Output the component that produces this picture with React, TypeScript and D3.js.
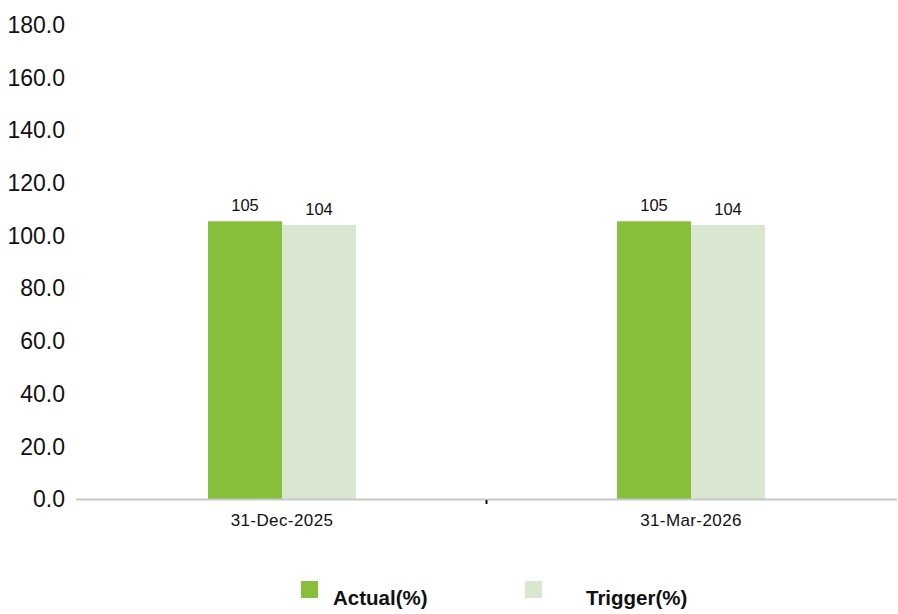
import React from "react";
import * as d3 from "d3";

const categories = ["31-Dec-2025", "31-Mar-2026"];
const seriesNames = ["Actual(%)", "Trigger(%)"];
const actualValues = [105.4, 105.4];
const triggerValues = [104.0, 104.0];
const yTicks = [0, 20, 40, 60, 80, 100, 120, 140, 160, 180];
const colors = ["#88BF3A", "#DAE7D0"];

const W = 898;
const H = 614;

export default function App() {
  const y = d3.scaleLinear().domain([0, 180]).range([499, 24.7]);
  const x0 = d3.scaleBand<string>().domain(categories).range([77.5, 895.5]).paddingInner(0).paddingOuter(0);
  const barW = 74;
  const series = [actualValues, triggerValues];
  const font = "Arial, 'Liberation Sans', sans-serif";

  return (
    <svg width={W} height={H} style={{ position: "absolute", left: 0, top: 0, background: "#fff" }}>
      {yTicks.map((t) => (
        <text key={t} x={65} y={y(t)} dy="0.36em" textAnchor="end" fontSize={23} fontFamily={font} fill="#111">
          {t.toFixed(1)}
        </text>
      ))}
      {categories.map((c, ci) => {
        const cx = (x0(c) as number) + x0.bandwidth() / 2;
        return (
          <g key={c}>
            {series.map((vals, si) => {
              const bx = cx - barW + si * barW;
              return (
                <g key={si}>
                  <rect x={bx} y={y(vals[ci])} width={barW} height={y(0) - y(vals[ci])} fill={colors[si]} />
                  <text x={bx + barW / 2} y={y(vals[ci]) - 10} textAnchor="middle" fontSize={16.5} fontFamily={font} fill="#111">
                    {vals[ci].toFixed(0)}
                  </text>
                </g>
              );
            })}
            <text x={cx} y={520} dy="0.36em" textAnchor="middle" fontSize={17} letterSpacing={0.4} fontFamily={font} fill="#111">
              {c}
            </text>
          </g>
        );
      })}
      <line x1={76} x2={897} y1={499.5} y2={499.5} stroke="#c8c8c8" strokeWidth={2} />
      {categories.slice(1).map((c) => (
        <line key={c} x1={x0(c) as number} x2={x0(c) as number} y1={500} y2={504} stroke="#111" strokeWidth={2} />
      ))}
      {seriesNames.map((s, i) => {
        const lx = [301, 525][i];
        const tx = [333, 586][i];
        return (
          <g key={s}>
            <rect x={lx} y={581} width={17} height={17} fill={colors[i]} />
            <text x={tx} y={605} fontSize={20.5} fontWeight="bold" fontFamily={font} fill="#111">
              {s}
            </text>
          </g>
        );
      })}
    </svg>
  );
}
